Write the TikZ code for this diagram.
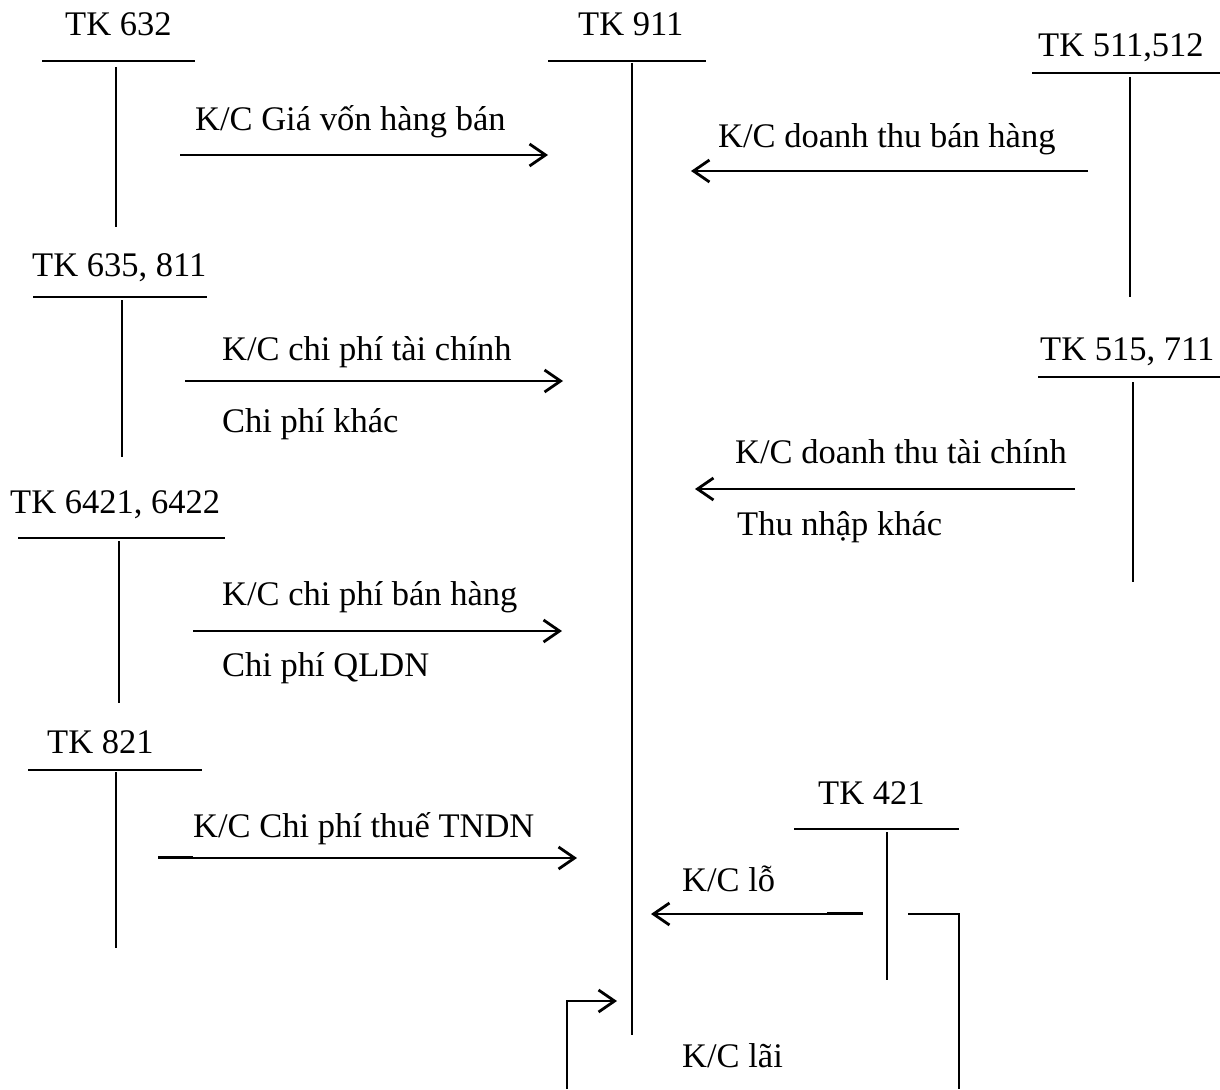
\documentclass[tikz,border=0pt]{standalone}
\usepackage{fontspec}
\setmainfont{Liberation Serif}
\usetikzlibrary{arrows.meta}
\begin{document}
\begin{tikzpicture}[x=1pt,y=-1pt,
  ln/.style={line width=2.1pt},
  arr/.style={line width=2.1pt,-{Straight Barb[length=16pt,width=22pt,line width=2.8pt]}},
  thk/.style={line width=3.2pt},
  lbl/.style={anchor=base west,inner sep=0pt,font=\fontsize{34.5}{40}\selectfont}]
\useasboundingbox (0,0) rectangle (1220,1089);
% T-account labels
\node[lbl] (t632) at (65,36) {TK 632};
\node[lbl] (t911) at (578,36) {TK 911};
\node[lbl] (t511) at (1038,57) {TK 511,512};
\node[lbl] (t635) at (32,276) {TK 635, 811};
\node[lbl] (t515) at (1040,360) {TK 515, 711};
\node[lbl] (t6421) at (10,513) {TK 6421, 6422};
\node[lbl] (t821) at (47,753) {TK 821};
\node[lbl] (t421) at (818,804) {TK 421};
% arrow labels
\node[lbl] (l1) at (195,131) {K/C Giá vốn hàng bán};
\node[lbl] (l2) at (718,147) {K/C doanh thu bán hàng};
\node[lbl] (l3) at (222,360) {K/C chi phí tài chính};
\node[lbl] (l3b) at (222,432) {Chi phí khác};
\node[lbl] (l4) at (735,463) {K/C doanh thu tài chính};
\node[lbl] (l4b) at (737,535) {Thu nhập khác};
\node[lbl] (l5) at (222,605) {K/C chi phí bán hàng};
\node[lbl] (l5b) at (222,676) {Chi phí QLDN};
\node[lbl] (l6) at (193,837) {K/C Chi phí thuế TNDN};
\node[lbl] (l7) at (682,891) {K/C lỗ};
\node[lbl] (l8) at (682,1067) {K/C lãi};
% T shapes
\draw[ln] (42,61) -- (195,61) (116,67) -- (116,227);
\draw[ln] (548,61) -- (706,61) (632,63) -- (632,1035);
\draw[ln] (1032,73) -- (1220,73) (1130,77) -- (1130,297);
\draw[ln] (33,297) -- (207,297) (122,300) -- (122,457);
\draw[ln] (1038,377) -- (1220,377) (1133,382) -- (1133,582);
\draw[ln] (18,538) -- (225,538) (119,541) -- (119,703);
\draw[ln] (28,770) -- (202,770) (116,772) -- (116,948);
\draw[ln] (794,829) -- (959,829) (887,832) -- (887,980);
% arrows
\coordinate (a1s) at (180,155); \coordinate (a1e) at (548,155);
\coordinate (a2s) at (1088,171); \coordinate (a2e) at (691,171);
\coordinate (a3s) at (185,381); \coordinate (a3e) at (563,381);
\coordinate (a4s) at (1075,489); \coordinate (a4e) at (695,489);
\coordinate (a5s) at (193,631); \coordinate (a5e) at (562,631);
\coordinate (a6s) at (160,858); \coordinate (a6e) at (577,858);
\coordinate (a7s) at (862,914); \coordinate (a7e) at (651,914);
\draw[arr] (a1s) -- (a1e);
\draw[arr] (a2s) -- (a2e);
\draw[arr] (a3s) -- (a3e);
\draw[arr] (a4s) -- (a4e);
\draw[arr] (a5s) -- (a5e);
\draw[arr] (a6s) -- (a6e);
\coordinate (b6s) at (158,857.5); \coordinate (b6e) at (193,857.5);
\draw[thk] (b6s) -- (b6e);
\draw[arr] (a7s) -- (a7e);
\coordinate (b7s) at (827,913.5); \coordinate (b7e) at (863,913.5);
\draw[thk] (b7s) -- (b7e);
% K/C lai path
\coordinate (p1) at (908,914); \coordinate (p2) at (959,914); \coordinate (p3) at (959,1089);
\draw[ln] (p1) -- (p2) -- (p3);
\coordinate (q1) at (567,1089); \coordinate (q2) at (567,1001); \coordinate (q3) at (617,1001);
\draw[arr] (q1) -- (q2) -- (q3);
\end{tikzpicture}
\end{document}
